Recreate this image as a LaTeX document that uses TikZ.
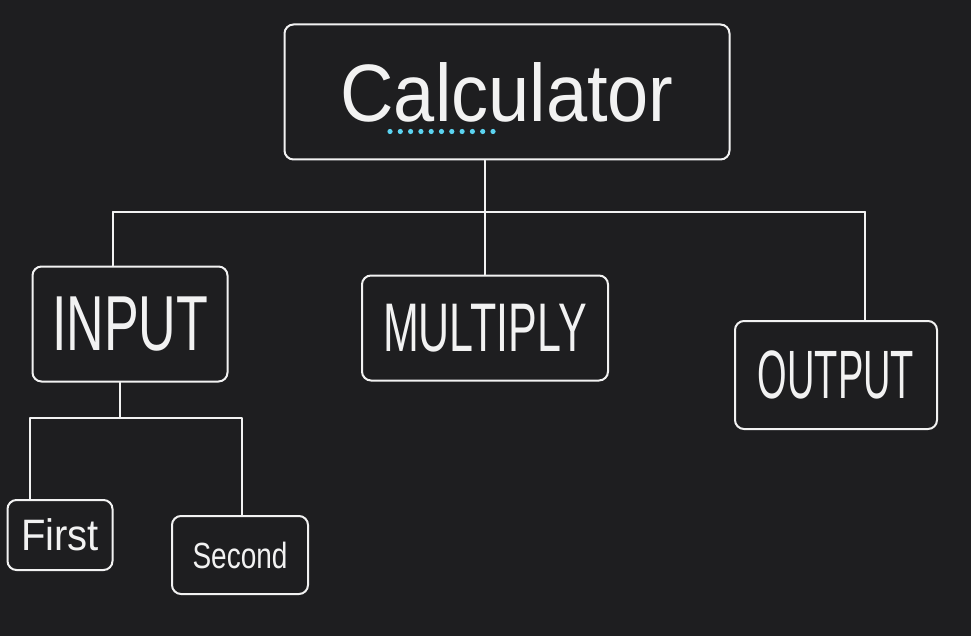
\documentclass[tikz,border=0pt]{standalone}
\usepackage{fontspec}
\usepackage{graphicx}
\setmainfont{Liberation Sans}
\definecolor{bg}{HTML}{1E1E20}
\definecolor{ink}{HTML}{F2F2F2}
\definecolor{dotblue}{HTML}{5BD3F0}
\begin{document}
\begin{tikzpicture}[x=1pt,y=-1pt,
  box/.style={draw=ink, line width=2pt, rounded corners=9pt, text=ink, inner sep=0pt, anchor=center},
  link/.style={draw=ink, line width=2pt, line join=round, line cap=round}]
\fill[bg] (0,0) rectangle (971,636);
\useasboundingbox (0,0) rectangle (971,636);

\node[box, minimum width=445pt, minimum height=135pt] (calc) at (507,92)
  {\fontsize{74}{80}\selectfont\scalebox{1}[1.1]{Calculator}};
\node[box, minimum width=195pt, minimum height=115pt] (input) at (130,324)
  {\fontsize{52}{56}\selectfont\scalebox{1}[1.5]{INPUT}};
\node[box, minimum width=246pt, minimum height=105pt] (mult) at (485,328)
  {\fontsize{43}{48}\selectfont\scalebox{1}[1.6]{MULTIPLY}};
\node[box, minimum width=202pt, minimum height=108pt] (output) at (836,375)
  {\fontsize{38}{42}\selectfont\scalebox{1}[1.8]{OUTPUT}};
\node[box, minimum width=105pt, minimum height=70pt] (first) at (60,535)
  {\fontsize{40}{44}\selectfont\scalebox{1}[1.1]{First}};
\node[box, minimum width=136pt, minimum height=78pt] (second) at (240,555)
  {\fontsize{28}{32}\selectfont\scalebox{1}[1.3]{Second}};

% spell-check dots under "Calculator"
\foreach \i in {0,...,10} \fill[dotblue] (390+10.3*\i,131.5) circle (2.6pt);

% top-level bus
\coordinate (bus) at (485,212);
\coordinate (bl) at (113,212);
\coordinate (br) at (865,212);
\draw[link] (calc.south -| bus) -- (bus);
\draw[link] (bl) -- (br);
\draw[link] (bl) -- (bl |- input.north);
\draw[link] (bus) -- (bus |- mult.north);
\draw[link] (br) -- (br |- output.north);

% input children
\coordinate (j) at (120,418);
\coordinate (cl) at (30,418);
\coordinate (cr) at (242,418);
\draw[link] (input.south -| j) -- (j);
\draw[link] (first.north -| cl) -- (cl) -- (cr) -- (second.north -| cr);
\end{tikzpicture}
\end{document}
